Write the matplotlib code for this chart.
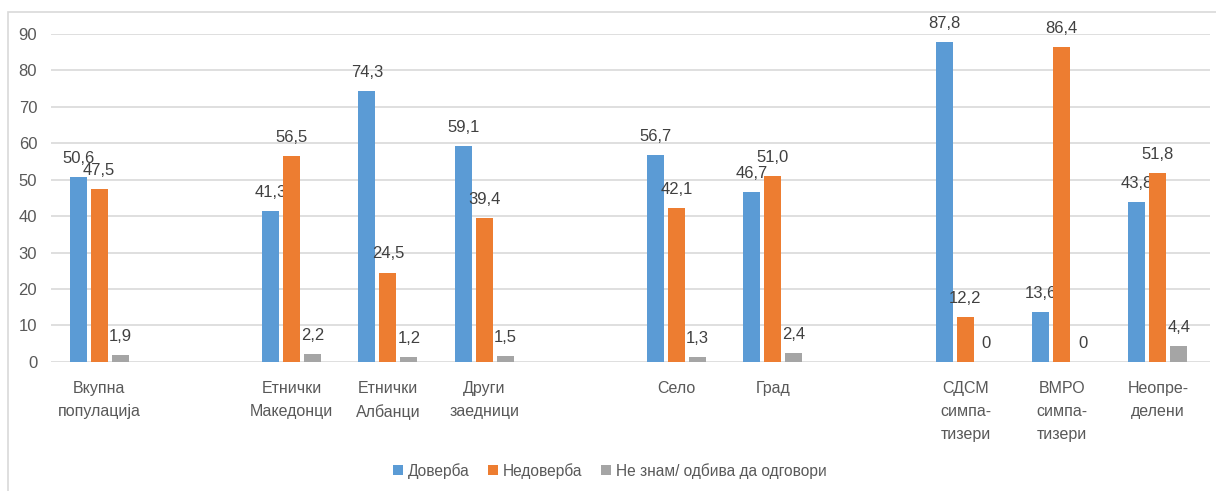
import matplotlib.pyplot as plt
import matplotlib.patches as mpatches
import numpy as np

plt.rcParams['font.family'] = ['Liberation Sans', 'DejaVu Sans']

# slots (empty strings are gaps between groups)
categories = ["Вкупна\nпопулација", "", "Етнички\nМакедонци", "Етнички\nАлбанци",
              "Други\nзаедници", "", "Село", "Град", "",
              "СДСМ\nсимпа-\nтизери", "ВМРО\nсимпа-\nтизери", "Неопре-\nделени"]
doverba = [50.6, None, 41.3, 74.3, 59.1, None, 56.7, 46.7, None, 87.8, 13.6, 43.8]
nedoverba = [47.5, None, 56.5, 24.5, 39.4, None, 42.1, 51.0, None, 12.2, 86.4, 51.8]
ne_znam = [1.9, None, 2.2, 1.2, 1.5, None, 1.3, 2.4, None, 0, 0, 4.4]
series_names = ["Доверба", "Недоверба", "Не знам/ одбива да одговори"]
colors = ["#5B9BD5", "#ED7D31", "#A5A5A5"]

fig = plt.figure(figsize=(12.16, 4.91), dpi=100)
ax = fig.add_axes([0.042, 0.263, 0.953, 0.668])

# chart frame (partly cut off in the reference)
fig.patches.append(mpatches.Rectangle((8 / 1216, -0.1), 1.2, 1 - 12 / 491 + 0.1,
                                      transform=fig.transFigure, fill=False,
                                      edgecolor="#D9D9D9", linewidth=1.2))

x = np.arange(len(categories))
width = 0.176
step = 0.218
for i, (vals, name, col) in enumerate(zip([doverba, nedoverba, ne_znam], series_names, colors)):
    idx = [j for j, v in enumerate(vals) if v is not None]
    v = [vals[j] for j in idx]
    bars = ax.bar(x[idx] + (i - 1) * step, v, width, color=col, label=name, zorder=3)
    for b, val in zip(bars, v):
        txt = "0" if val == 0 else f"{val:.1f}".replace(".", ",")
        ax.annotate(txt, (b.get_x() + b.get_width() / 2, val), xytext=(0, 8),
                    textcoords="offset points", ha="center", va="bottom",
                    fontsize=12, color="#404040")

ax.set_xlim(-0.5, 11.54)
ax.set_ylim(0, 90)
ax.set_yticks(range(0, 91, 10))
ax.yaxis.grid(True, color="#D9D9D9", linewidth=1.2, zorder=0)
ax.set_xticks(x)
ax.set_xticklabels(categories, fontsize=11.5, color="#595959", linespacing=1.65, va="top")
ax.tick_params(axis="x", length=0, pad=14)
ax.tick_params(axis="y", length=0, pad=10, labelsize=12, labelcolor="#595959")
for s in ax.spines.values():
    s.set_visible(False)

fig.legend(loc="center", bbox_to_anchor=(610 / 1216, 1 - 471 / 491), ncol=3, frameon=False,
           fontsize=11.2, labelcolor="#595959", handlelength=0.6, handleheight=0.6,
           handletextpad=0.35, columnspacing=1.2)

fig.savefig("out.png", dpi=100)
